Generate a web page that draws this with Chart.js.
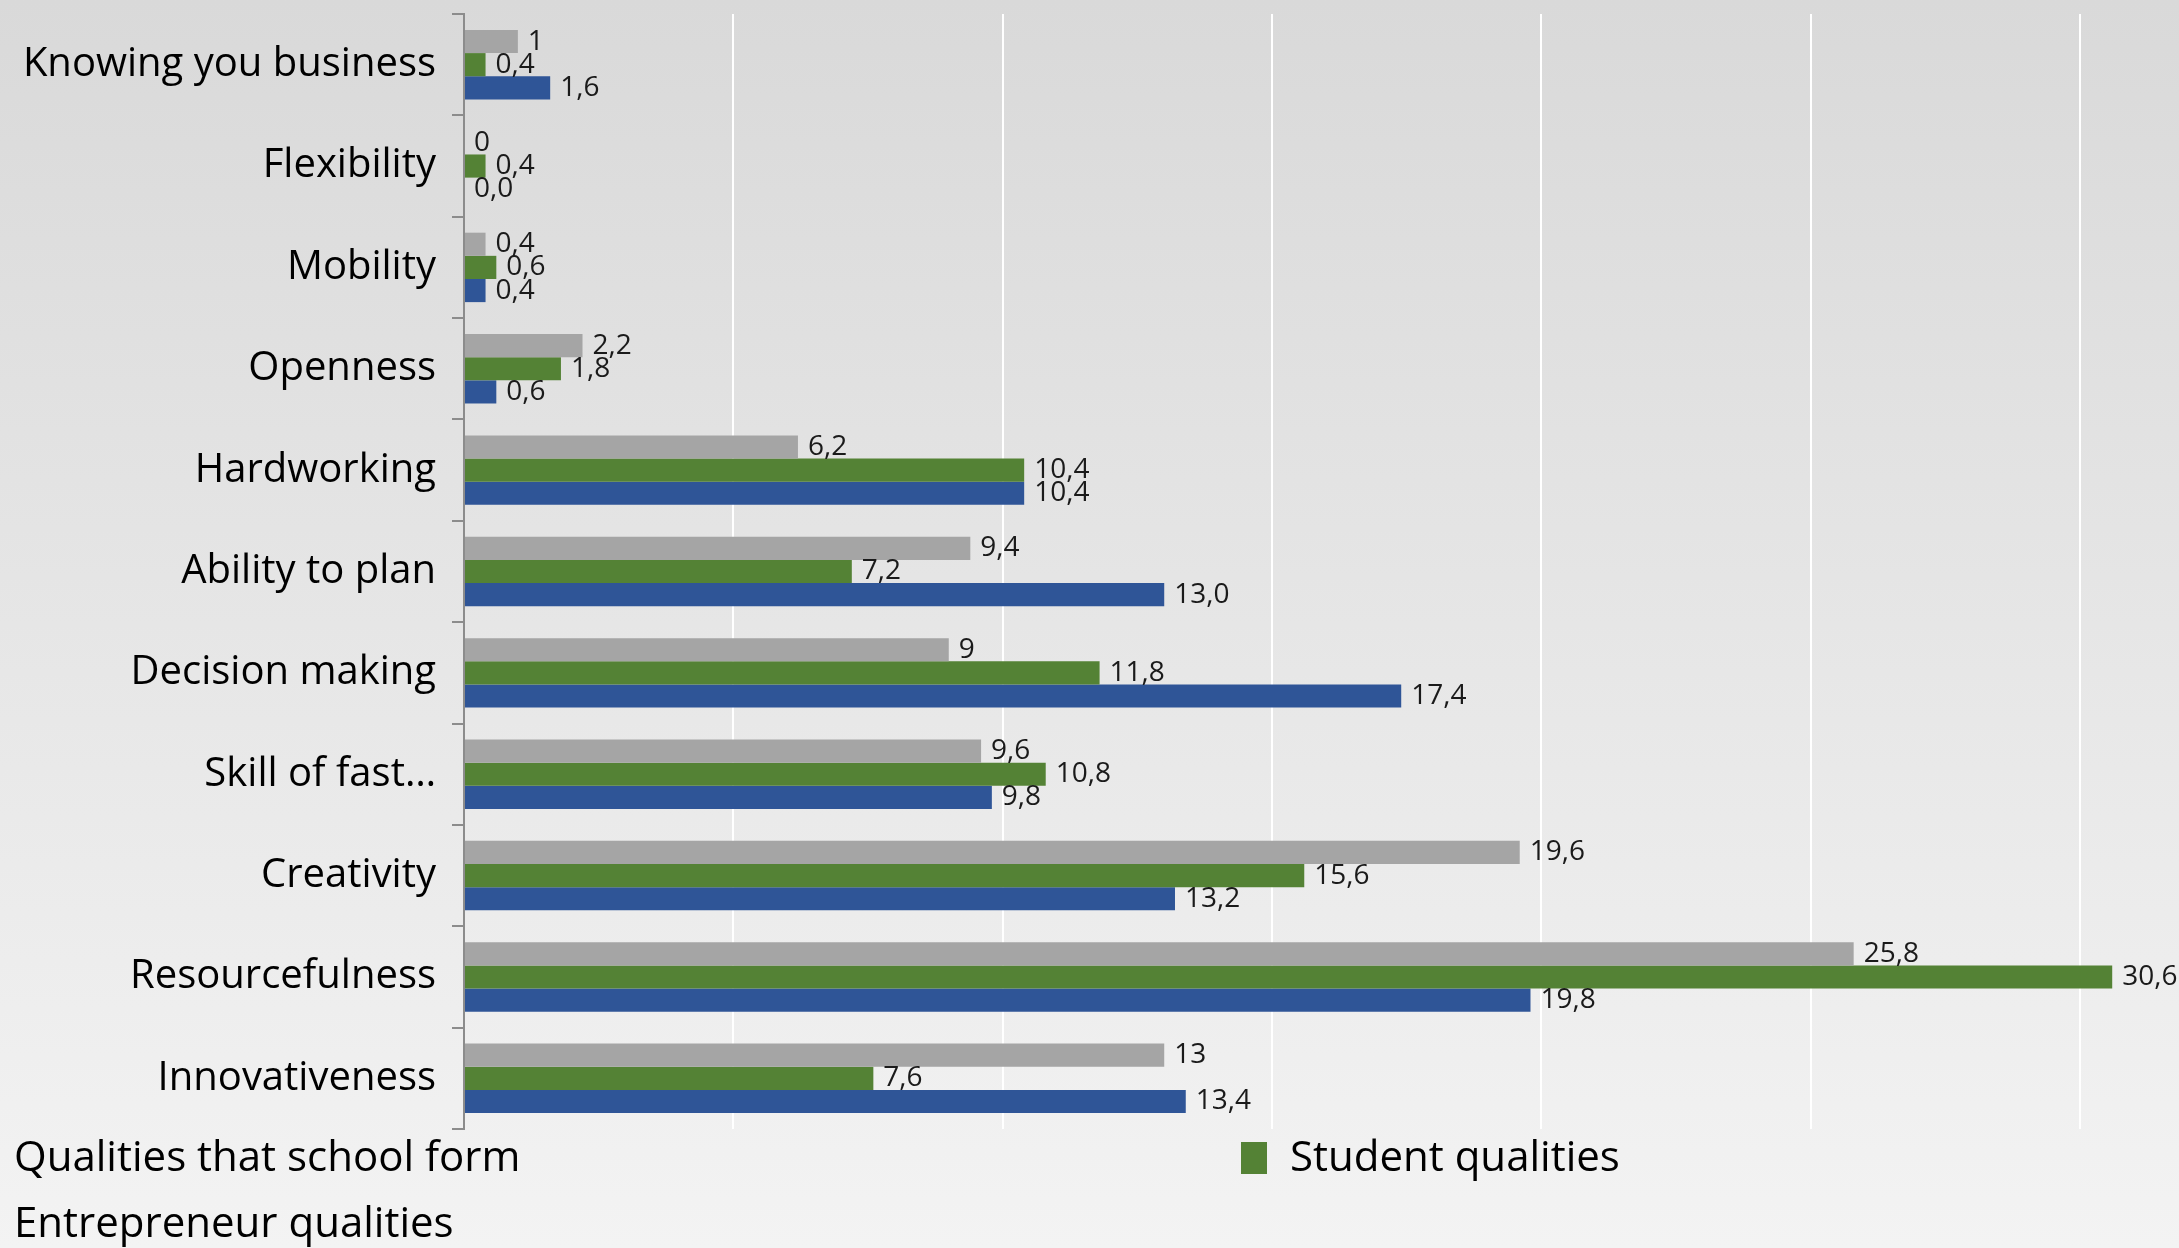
<!DOCTYPE html>
<html>
<head>
<meta charset="utf-8">
<script src="https://cdn.jsdelivr.net/npm/chart.js@4"></script>
<style>
  html, body { margin: 0; padding: 0; }
  body {
    width: 2179px; height: 1248px; overflow: hidden; position: relative;
    background: linear-gradient(#d9d9d9 0%, #e6e6e6 50%, #f3f3f3 100%);
    font-family: "Open Sans", sans-serif;
  }
  #chart { position: absolute; left: 0; top: 0; }
  .leg { position: absolute; font-size: 42px; color: #000; line-height: 1; white-space: nowrap; }
  .swatch { position: absolute; width: 26px; height: 32px; }
</style>
</head>
<body>
<canvas id="chart" width="2179" height="1130"></canvas>
<div class="leg" id="leg0" style="left:14px; top:1134px;"></div>
<div class="swatch" id="sw1" style="left:1241px; top:1142px;"></div>
<div class="leg" id="leg1" style="left:1290px; top:1134px;"></div>
<div class="leg" id="leg2" style="left:14px; top:1200px;"></div>
<script>
const categories = ['Knowing you business', 'Flexibility', 'Mobility', 'Openness', 'Hardworking',
  'Ability to plan', 'Decision making', 'Skill of fast…', 'Creativity', 'Resourcefulness', 'Innovativeness'];

const seriesNames = ['Qualities that school form', 'Student qualities', 'Entrepreneur qualities'];
const seriesColors = ['#a5a5a5', '#548235', '#2f5597'];

const schoolValues = [1, 0, 0.4, 2.2, 6.2, 9.4, 9, 9.6, 19.6, 25.8, 13];
const studentValues = [0.4, 0.4, 0.6, 1.8, 10.4, 7.2, 11.8, 10.8, 15.6, 30.6, 7.6];
const entrepreneurValues = [1.6, 0.0, 0.4, 0.6, 10.4, 13.0, 17.4, 9.8, 13.2, 19.8, 13.4];

// gridlines every 5, axis cut off at the right edge of the picture
const xMax = 31.84;
const gridStep = 5;

// как подписываются значения: серые без нулей, синие с одним знаком
function formatValue(datasetIndex, v) {
  const s = datasetIndex === 2 ? v.toFixed(1) : String(v);
  return s.replace('.', ',');
}

// подписи справа от столбиков
const valueLabels = {
  id: 'valueLabels',
  afterDatasetsDraw(chart) {
    const ctx = chart.ctx;
    ctx.save();
    ctx.font = '28px "Open Sans", sans-serif';
    ctx.fillStyle = '#1a1a1a';
    ctx.textAlign = 'left';
    ctx.textBaseline = 'middle';
    chart.data.datasets.forEach((ds, i) => {
      chart.getDatasetMeta(i).data.forEach((bar, j) => {
        ctx.fillText(formatValue(i, ds.data[j]), bar.x + 10, bar.y);
      });
    });
    ctx.restore();
  }
};

const datasets = [schoolValues, studentValues, entrepreneurValues].map((vals, i) => ({
  label: seriesNames[i],
  data: vals,
  backgroundColor: seriesColors[i],
  borderWidth: 0,
  barPercentage: 1,
  categoryPercentage: 0.685
}));

new Chart(document.getElementById('chart'), {
  type: 'bar',
  data: { labels: categories, datasets },
  plugins: [valueLabels],
  options: {
    indexAxis: 'y',
    responsive: false,
    animation: false,
    layout: { padding: { top: 14, right: 0, bottom: 1, left: 0 } },
    plugins: { legend: { display: false }, tooltip: { enabled: false } },
    scales: {
      x: {
        min: 0,
        max: xMax,
        ticks: { display: false, stepSize: gridStep },
        border: { display: false },
        grid: {
          drawTicks: false,
          lineWidth: 2,
          color: c => (c.tick && c.tick.value > 0 && c.tick.value % gridStep === 0) ? '#ffffff' : 'rgba(0,0,0,0)'
        }
      },
      y: {
        afterFit: scale => {
          scale.width = 464;
          scale.paddingTop = 0;
          scale.paddingBottom = 0;
        },
        ticks: { color: '#000', font: { family: '"Open Sans", sans-serif', size: 40 }, padding: 16 },
        border: { display: true, color: '#8c8c8c', width: 2 },
        grid: { offset: true, drawOnChartArea: false, drawTicks: true, tickLength: 12, color: '#8c8c8c', lineWidth: 2 }
      }
    }
  }
});

// легенда как на слайде: подписи внизу, квадрат видно только у зелёной серии
document.getElementById('leg0').textContent = seriesNames[0];
document.getElementById('leg1').textContent = seriesNames[1];
document.getElementById('leg2').textContent = seriesNames[2];
document.getElementById('sw1').style.background = seriesColors[1];
</script>
</body>
</html>
